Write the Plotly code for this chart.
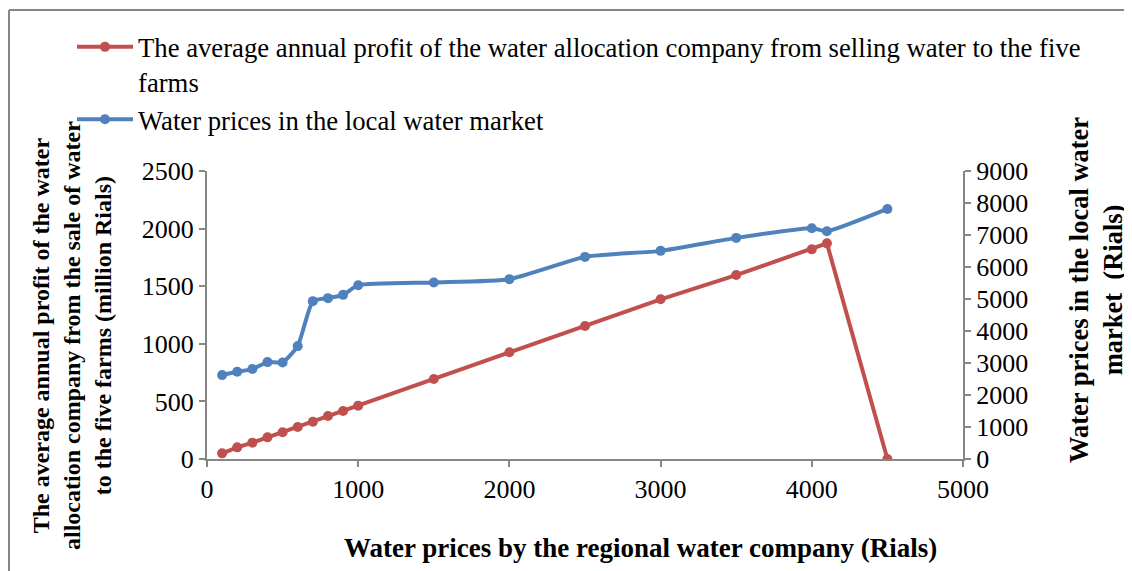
import plotly.graph_objects as go

# Data
regional_price = [100, 200, 300, 400, 500, 600, 700, 800, 900, 1000,
                  1500, 2000, 2500, 3000, 3500, 4000, 4100, 4500]
profit = [49, 101, 142, 188, 232, 278, 324, 373, 417, 463,
          694, 926, 1154, 1386, 1597, 1820, 1872, 0]
local_price = [2622, 2726, 2810, 3028, 3018, 3528, 4933, 5027, 5130, 5432,
               5517, 5620, 6316, 6504, 6910, 7212, 7118, 7815]

x_ticks = [0, 1000, 2000, 3000, 4000, 5000]
y1_ticks = [0, 500, 1000, 1500, 2000, 2500]
y2_ticks = [0, 1000, 2000, 3000, 4000, 5000, 6000, 7000, 8000, 9000]

RED = "#C0504D"
BLUE = "#4F81BD"
AX = "#868686"
FONT = "Liberation Serif, Times New Roman, serif"

# page offset of the plot area (the page body has an 8px margin)
PX0, PX1, PY0, PY1 = 207, 963, 171, 459


def px(x):
    return (x - PX0) / (PX1 - PX0)


def py(y):
    return (PY1 - y) / (PY1 - PY0)


fig = go.Figure()
fig.add_trace(go.Scatter(
    x=regional_price, y=profit, mode="lines+markers",
    name="The average annual profit of the water allocation company from selling water to the five<br>farms",
    line=dict(color=RED, width=4), marker=dict(color=RED, size=10),
    legendgroup="a", yaxis="y"))
fig.add_trace(go.Scatter(
    x=regional_price, y=local_price, mode="lines+markers",
    name="Water prices in the local water market",
    line=dict(color=BLUE, width=4, shape="spline", smoothing=0.5),
    marker=dict(color=BLUE, size=10),
    legendgroup="b", yaxis="y2"))

axis_common = dict(showgrid=False, zeroline=False, showline=True, linecolor=AX,
                   linewidth=2, ticks="outside", tickcolor=AX, ticklen=6, tickwidth=2,
                   tickfont=dict(family=FONT, size=26, color="black"))

fig.update_layout(
    width=1124, height=563,
    margin=dict(l=199, r=169, t=163, b=112),
    plot_bgcolor="white", paper_bgcolor="white",
    font=dict(family=FONT, color="black"),
    xaxis=dict(range=[0, 5000], tickvals=x_ticks, **axis_common),
    yaxis=dict(range=[0, 2500], tickvals=y1_ticks, **axis_common),
    yaxis2=dict(range=[0, 9000], tickvals=y2_ticks, overlaying="y", side="right",
                **axis_common),
    legend=dict(x=px(72), y=py(23), xanchor="left", yanchor="top",
                font=dict(family=FONT, size=26.7, color="black"),
                itemwidth=56, valign="top",
                tracegroupgap=0, bgcolor="rgba(0,0,0,0)"),
    showlegend=True,
)

# Axis titles
fig.add_annotation(
    text="<b>The average annual profit of the water<br>allocation company from the sale of water<br>to the five farms (million Rials)</b>",
    xref="paper", yref="paper", x=px(72), y=py(336), xanchor="center", yanchor="middle",
    textangle=-90, showarrow=False, font=dict(family=FONT, size=24, color="black"))
fig.add_annotation(
    text="<b>Water prices in the local water<br>market  (Rials)</b>",
    xref="paper", yref="paper", x=px(1096), y=py(290),
    xanchor="center", yanchor="middle",
    textangle=-90, showarrow=False, font=dict(family=FONT, size=26.5, color="black"))
fig.add_annotation(
    text="<b>Water prices by the regional water company (Rials)</b>",
    xref="paper", yref="paper", x=px(640), y=py(548),
    xanchor="center", yanchor="middle", showarrow=False,
    font=dict(family=FONT, size=27, color="black"))

# Outer frame (top and left borders)
fig.add_shape(type="line", xref="paper", yref="paper",
              x0=px(9), x1=px(1140), y0=py(10), y1=py(10),
              line=dict(color=AX, width=2))
fig.add_shape(type="line", xref="paper", yref="paper",
              x0=px(9), x1=px(9), y0=py(10), y1=py(580),
              line=dict(color=AX, width=2))

fig.write_html("out.html")
